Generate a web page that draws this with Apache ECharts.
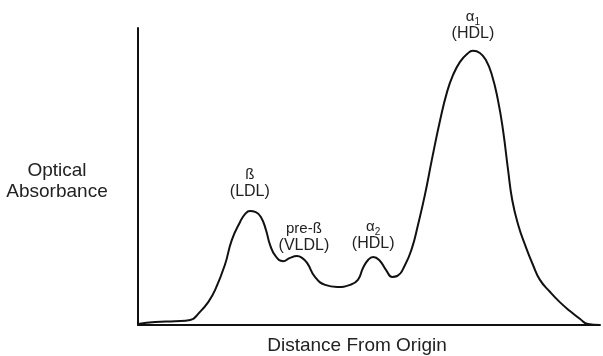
<!DOCTYPE html>
<html>
<head>
<meta charset="utf-8">
<script src="https://cdn.jsdelivr.net/npm/echarts@6/dist/echarts.min.js"></script>
<style>html,body{margin:0;padding:0;background:#fff}#c{width:603px;height:356px}</style>
</head>
<body>
<div id="c"></div>
<script>
// Distance from origin (relative units, 0-100)
var distance = [0, 3.7, 8.0, 11.3, 13.4, 15.2, 16.7, 18.8, 20.3, 22.1, 23.2, 24.2, 25.5, 26.6, 27.7, 28.6, 29.9, 31.4, 32.9, 34.4, 35.5, 36.6, 38.3, 40.5, 43.1, 45.9, 47.6, 48.7, 49.8, 50.9, 52.2, 53.7, 55.0, 56.1, 57.8, 59.3, 60.6, 62.1, 63.6, 65.4, 66.9, 68.2, 69.7, 71.2, 72.5, 74.0, 75.3, 76.6, 77.9, 79.0, 80.1, 81.0, 82.3, 83.8, 85.5, 87.0, 89.2, 91.3, 93.5, 95.7, 97.4, 100];
// Optical absorbance (relative units, 0-100)
var absorbance = [0.3, 1.0, 1.3, 1.7, 4.4, 7.7, 11.8, 20.2, 28.6, 34.7, 37.4, 38.4, 38.0, 36.4, 32.0, 26.9, 22.9, 21.5, 22.6, 23.2, 22.6, 20.9, 16.2, 13.5, 12.8, 13.5, 15.2, 19.2, 21.9, 22.9, 21.9, 18.5, 16.2, 16.5, 20.2, 25.9, 33.7, 43.8, 55.6, 69.0, 78.5, 84.2, 88.6, 91.2, 92.3, 91.6, 89.2, 84.2, 75.8, 65.7, 52.2, 42.1, 33.7, 26.9, 20.2, 15.2, 11.1, 7.7, 4.7, 2.0, 0.3, 0];
// Peak labels: index into the arrays above, symbol (with optional subscript) and fraction name
var peakIndex = [11, 19, 29, 44];
var peakSymbol = ['ß', 'pre-ß', 'α', 'α'];
var peakSubscript = ['', '', '2', '1'];
var peakName = ['(LDL)', '(VLDL)', '(HDL)', '(HDL)'];
var xAxisName = 'Distance From Origin';
var yAxisLines = ['Optical', 'Absorbance'];

var FONT = 'Liberation Sans, Arial, sans-serif';
// label styling per peak (gap above the curve, spacing of the first line, horizontal nudge)
var labelStyle = [
  { distance: 10, lh: 20, dx: 0 },
  { distance: 1, lh: 14, dx: 7 },
  { distance: 4, lh: 15, dx: 0 },
  { distance: 8, lh: 20, dx: 0 }
];
var marks = peakIndex.map(function (i, k) {
  var st = labelStyle[k];
  var first = '{a' + k + '|' + peakSymbol[k] + '}' + (peakSubscript[k] ? '{s' + k + '|' + peakSubscript[k] + '}' : '');
  var rich = {};
  rich['a' + k] = { fontFamily: FONT, fontSize: 15, color: '#222', lineHeight: st.lh, verticalAlign: 'bottom' };
  rich['s' + k] = { fontFamily: FONT, fontSize: 10, color: '#222', lineHeight: st.lh, verticalAlign: 'bottom', padding: [0, 0, -3, 0] };
  rich.b = { fontFamily: FONT, fontSize: 16, color: '#222', lineHeight: 18 };
  return {
    coord: [distance[i], absorbance[i]],
    label: {
      show: true,
      position: 'top',
      align: 'center',
      distance: st.distance,
      offset: [st.dx, 0],
      formatter: first + '\n{b|' + peakName[k] + '}',
      rich: rich
    }
  };
});

var chart = echarts.init(document.getElementById('c'), null, { renderer: 'canvas' });
chart.setOption({
  animation: false,
  backgroundColor: '#fff',
  grid: { left: 138, right: 3, top: 28, bottom: 31, containLabel: false, outerBoundsMode: 'none' },
  xAxis: {
    type: 'value', min: 0, max: 100,
    name: xAxisName, nameLocation: 'middle', nameGap: 11,
    nameTextStyle: { fontFamily: FONT, fontSize: 19, color: '#222', verticalAlign: 'top', padding: [0, 24, 0, 0] },
    axisLine: { show: true, lineStyle: { color: '#111', width: 2 } },
    axisTick: { show: false }, axisLabel: { show: false }, splitLine: { show: false }
  },
  yAxis: {
    type: 'value', min: 0, max: 100,
    name: '{g| }\n{t|' + yAxisLines.join('}\n{t|') + '}', nameLocation: 'middle', nameRotate: 0, nameGap: 81,
    nameTextStyle: {
      fontFamily: FONT, fontSize: 19, color: '#222', align: 'center',
      rich: {
        g: { fontSize: 10, lineHeight: 10 },
        t: { fontFamily: FONT, fontSize: 19, color: '#222', lineHeight: 21, align: 'center' }
      }
    },
    axisLine: { show: true, lineStyle: { color: '#111', width: 2 } },
    axisTick: { show: false }, axisLabel: { show: false }, splitLine: { show: false }
  },
  series: [{
    type: 'line',
    data: distance.map(function (d, i) { return [d, absorbance[i]]; }),
    smooth: 0.5,
    showSymbol: false,
    symbol: 'none',
    lineStyle: { color: '#111', width: 2 },
    markPoint: {
      symbol: 'circle',
      symbolSize: 1,
      itemStyle: { color: 'rgba(0,0,0,0)' },
      data: marks
    }
  }]
});
</script>
</body>
</html>
